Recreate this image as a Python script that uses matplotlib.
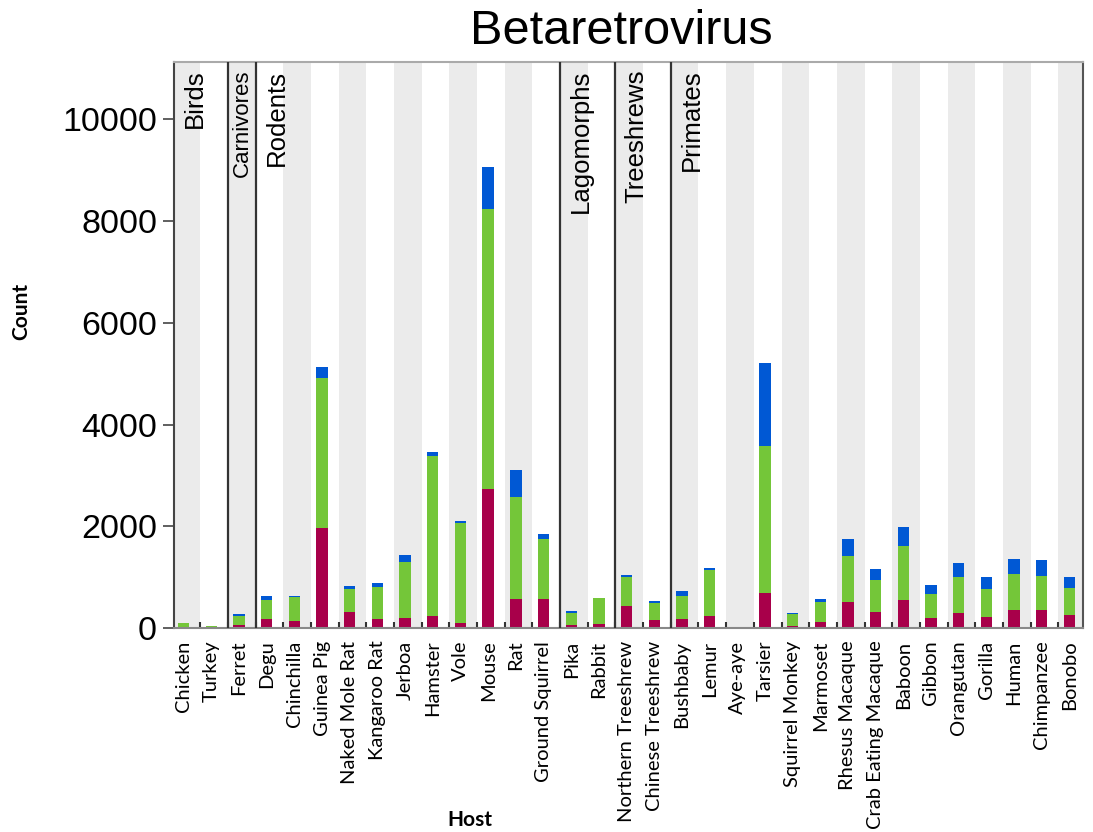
import numpy as np
import matplotlib
matplotlib.use('Agg')
import matplotlib.pyplot as plt

# Data (segment heights, bottom -> top)
hosts = ['Chicken', 'Turkey', 'Ferret', 'Degu', 'Chinchilla', 'Guinea Pig',
         'Naked Mole Rat', 'Kangaroo Rat', 'Jerboa', 'Hamster', 'Vole', 'Mouse',
         'Rat', 'Ground Squirrel', 'Pika', 'Rabbit', 'Northern Treeshrew',
         'Chinese Treeshrew', 'Bushbaby', 'Lemur', 'Aye-aye', 'Tarsier',
         'Squirrel Monkey', 'Marmoset', 'Rhesus Macaque', 'Crab Eating Macaque',
         'Baboon', 'Gibbon', 'Orangutan', 'Gorilla', 'Human', 'Chimpanzee', 'Bonobo']

red   = [0, 0, 58, 182, 131, 1964, 327, 182, 196, 240, 109, 2742, 582, 582,
         58, 73, 436, 167, 182, 233, 0, 691, 36, 124, 509, 313, 545, 196, 291,
         218, 349, 356, 255]
green = [110, 35, 175, 363, 487, 2945, 437, 618, 1113, 3142, 1964, 5491, 2000, 1178,
         247, 523, 560, 328, 451, 909, 10, 2894, 233, 385, 909, 632, 1077, 473, 713,
         560, 706, 677, 530]
blue  = [0, 0, 43, 88, 10, 218, 72, 87, 131, 87, 36, 822, 523, 95,
         37, 0, 44, 36, 94, 43, 0, 1630, 36, 66, 327, 219, 363, 189, 269,
         218, 312, 312, 219]

groups = ['Birds', 'Carnivores', 'Rodents', 'Lagomorphs', 'Treeshrews', 'Primates']
group_start = [0, 2, 3, 14, 16, 18]

# Plot
plt.rcParams['font.family'] = ['Liberation Sans', 'DejaVu Sans']
fig = plt.figure(figsize=(10.93, 8.32), dpi=100)
ax = fig.add_axes([0.159, 0.245, 0.832, 0.680])

x = np.arange(len(hosts))
xmin, xmax = -0.36, len(hosts) - 0.5
ymax = 11120

# background bands
for i in range(len(hosts)):
    if i % 2 == 0:
        ax.axvspan(max(i - 0.4, xmin), min(i + 0.6, xmax), color='#ebebeb', lw=0, zorder=0)

w = 0.41
r = np.array(red)
g = np.array(green)
b = np.array(blue)
ax.bar(x, r, w, color='#a8004a', zorder=2)
ax.bar(x, g, w, bottom=r, color='#74c639', zorder=2)
ax.bar(x, b, w, bottom=r + g, color='#0058d4', zorder=2)

# group separators and labels
for k, (name, s) in enumerate(zip(groups, group_start)):
    if s > 0:
        ax.axvline(s - 0.4, color='#333333', lw=1.6, zorder=3)
        xs = s - 0.4
    else:
        xs = xmin
    fs = 16 if name == 'Carnivores' else 18.5
    off = 0.15 if name == 'Carnivores' else 0.33
    ax.text(xs + off, 10980, name, rotation=90, ha='left', va='top',
            fontsize=fs, color='black', zorder=4)

ax.set_xlim(xmin, xmax)
ax.set_ylim(0, ymax)

ax.set_yticks([0, 2000, 4000, 6000, 8000, 10000])
ax.tick_params(axis='y', labelsize=24.5, length=8, width=1.2, color='#444444', pad=4)

ax.set_xticks(x)
ax.set_xticklabels(hosts, rotation=90, fontsize=14.5, family='Lato', va='top')
ax.tick_params(axis='x', length=0, pad=9)
ax.set_xticks(np.arange(len(hosts) - 1) + 0.6, minor=True)
ax.tick_params(axis='x', which='minor', direction='in', length=4, width=1.5, color='#333333')

for side, col in [('left', '#444444'), ('right', '#555555'), ('top', '#aaaaaa'), ('bottom', '#888888')]:
    ax.spines[side].set_color(col)
    ax.spines[side].set_linewidth(1.5)

fig.text(0.568, 0.962, 'Betaretrovirus', ha='center', va='center', fontsize=35)
fig.text(0.019, 0.626, 'Count', rotation=90, ha='center', va='center',
         fontsize=15, fontweight='bold', family='Lato')
fig.text(0.430, 0.015, 'Host', ha='center', va='center',
         fontsize=15, fontweight='bold', family='Lato')

fig.savefig('out.png', dpi=100)
